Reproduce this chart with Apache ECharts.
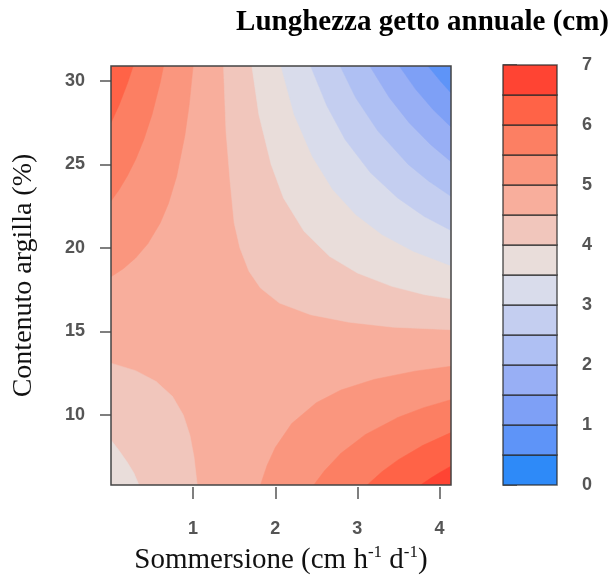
<!DOCTYPE html>
<html><head><meta charset="utf-8">
<script src="https://cdn.jsdelivr.net/npm/echarts@6/dist/echarts.min.js"></script>
<style>html,body{margin:0;padding:0;background:#fff}#c{width:616px;height:584px}</style>
</head><body><div id="c"></div>
<script>
// ---- axes / legend ticks ----
const xTicks = [1, 2, 3, 4];
const yTicks = [10, 15, 20, 25, 30];
const legendTicks = [0, 1, 2, 3, 4, 5, 6, 7];
const xRange = [0, 4.14];
const yRange = [5.8, 30.9];

// ---- contour levels (cm) and their fill colours ----
const levelBreaks = [0, 0.5, 1, 1.5, 2, 2.5, 3, 3.5, 4, 4.5, 5, 5.5, 6, 6.5, 7];
const bandColors = ['#2E8AF8', '#5E94F8', '#7EA0F6', '#98AFF5', '#AFC0F3', '#C4CEF0', '#D9DCEB',
                    '#E9DDDA', '#F1C6BC', '#F8AE9C', '#FA967E', '#FC7F63', '#FF6347', '#FF4433'];

// ---- contour lines: [Sommersione, Contenuto argilla] ----
// top-left corner (values rise towards the corner)
const tl_5_0 = [[1.0,30.9],[0.95,28.5],[0.9,26.75],[0.8,24.3],[0.7,22.67],[0.6,21.5],[0.45,20.26],[0.3,19.4],[0.15,18.76],[0,18.27]];
const tl_5_5 = [[0.64,30.9],[0.6,29.93],[0.5,28.0],[0.4,26.5],[0.3,25.3],[0.2,24.32],[0.1,23.5],[0,22.81]];
const tl_6_0 = [[0.27,30.9],[0.2,29.86],[0.1,28.58],[0,27.5]];
// bottom-right corner (values rise towards the corner)
const br_5_0 = [[1.82,5.8],[1.9,6.97],[2.0,8.04],[2.2,9.48],[2.5,10.73],[2.8,11.49],[3.2,12.12],[3.7,12.62],[4.14,12.91]];
const br_5_5 = [[2.47,5.8],[2.6,6.65],[2.8,7.7],[3.1,8.83],[3.5,9.86],[3.8,10.42],[4.14,10.91]];
const br_6_0 = [[3.12,5.8],[3.3,6.6],[3.5,7.32],[3.8,8.18],[4.14,8.94]];
const br_6_5 = [[3.77,5.8],[3.9,6.23],[4.0,6.54],[4.14,6.93]];
// top-right corner (values fall towards the corner)
const tr_4_5 = [[1.37,30.9],[1.40,27],[1.45,24],[1.5,21.5],[1.57,20],[1.68,18.6],[1.82,17.6],[2.05,16.7],[2.43,16],[2.9,15.55],[3.44,15.25],[4.14,15.1]];
const tr_4_0 = [[1.715,30.9],[1.80,28],[1.95,25],[2.1,23],[2.35,21],[2.66,19.5],[3.0,18.5],[3.42,17.7],[3.82,17.2],[4.14,16.95]];
const tr_3_5 = [[2.07,30.9],[2.23,28],[2.45,25.5],[2.7,23.5],[2.98,22],[3.3,20.8],[3.68,19.8],[4.14,18.94]];
const tr_3_0 = [[2.43,30.9],[2.63,28.5],[2.85,26.5],[3.16,24.5],[3.49,23],[3.81,21.9],[4.14,21.05]];
const tr_2_5 = [[2.79,30.9],[2.98,29],[3.25,27],[3.62,25],[3.87,24],[4.14,23.09]];
const tr_2_0 = [[3.15,30.9],[3.39,29],[3.63,27.5],[3.89,26.2],[4.14,25.17]];
const tr_1_5 = [[3.51,30.9],[3.71,29.5],[3.92,28.3],[4.14,27.25]];
const tr_1_0 = [[3.86,30.9],[4.01,30],[4.14,29.29]];
// bottom-left corner (values fall towards the corner)
const bl_4_5 = [[0,13.1],[0.3,12.65],[0.55,12.0],[0.75,11.1],[0.88,10.0],[0.96,8.8],[1.01,7.5],[1.05,5.8]];
const bl_4_0 = [[0,8.5],[0.1,7.85],[0.2,7.15],[0.28,6.5],[0.34,5.8]];

// region = area beyond a contour line, towards a plot corner
const centreLevel = 4.5; // band 4.5-5 fills the rest
const regions = [
  {line: tl_5_0, level: 5.0, corner: 'tl', side: 'high'},
  {line: tl_5_5, level: 5.5, corner: 'tl', side: 'high'},
  {line: tl_6_0, level: 6.0, corner: 'tl', side: 'high'},
  {line: br_5_0, level: 5.0, corner: 'br', side: 'high'},
  {line: br_5_5, level: 5.5, corner: 'br', side: 'high'},
  {line: br_6_0, level: 6.0, corner: 'br', side: 'high'},
  {line: br_6_5, level: 6.5, corner: 'br', side: 'high'},
  {line: tr_4_5, level: 4.5, corner: 'tr', side: 'low'},
  {line: tr_4_0, level: 4.0, corner: 'tr', side: 'low'},
  {line: tr_3_5, level: 3.5, corner: 'tr', side: 'low'},
  {line: tr_3_0, level: 3.0, corner: 'tr', side: 'low'},
  {line: tr_2_5, level: 2.5, corner: 'tr', side: 'low'},
  {line: tr_2_0, level: 2.0, corner: 'tr', side: 'low'},
  {line: tr_1_5, level: 1.5, corner: 'tr', side: 'low'},
  {line: tr_1_0, level: 1.0, corner: 'tr', side: 'low'},
  {line: bl_4_5, level: 4.5, corner: 'bl', side: 'low'},
  {line: bl_4_0, level: 4.0, corner: 'bl', side: 'low'}
];

const cornerPt = {
  tl: [xRange[0], yRange[1]], tr: [xRange[1], yRange[1]],
  bl: [xRange[0], yRange[0]], br: [xRange[1], yRange[0]]
};
function bandOf(level, side) {
  const i = levelBreaks.indexOf(level);
  return side === 'high' ? i : i - 1;
}
const polys = [{pts: [cornerPt.bl, cornerPt.br, cornerPt.tr, cornerPt.tl], band: bandOf(centreLevel, 'high')}]
  .concat(regions.map(r => ({pts: r.line.concat([cornerPt[r.corner]]), band: bandOf(r.level, r.side)})));

const legendBands = levelBreaks.slice(0, -1).map((lo, i) => [lo, levelBreaks[i + 1]]);

const sans = 'Liberation Sans, Arial, sans-serif';
const serif = 'Liberation Serif, Times New Roman, serif';
const tickLabel = {fontFamily: sans, fontSize: 18, color: '#555', fontWeight: 'bold'};
const tickLine = {color: '#555', width: 1.5};

const chart = echarts.init(document.getElementById('c'));
chart.setOption({
  animation: false,
  title: {
    text: 'Lunghezza getto annuale (cm)', right: 7, top: 8, padding: 0,
    textStyle: {fontFamily: serif, fontWeight: 'bold', fontSize: 29, color: '#000'}
  },
  grid: [
    {left: 111, top: 66, width: 340, height: 419, show: true, borderColor: '#444', borderWidth: 1.5, z: 10, backgroundColor: 'transparent'},
    {left: 503, top: 65, width: 54, height: 420}
  ],
  xAxis: [
    {
      gridIndex: 0, type: 'value', min: xRange[0], max: xRange[1], offset: 2,
      axisLine: {show: false}, splitLine: {show: false},
      axisTick: {length: 12, lineStyle: tickLine, customValues: xTicks},
      axisLabel: Object.assign({margin: 33, customValues: xTicks}, tickLabel),
      name: '{a|Sommersione (cm h}{s|-1}{a| d}{s|-1}{a|)}',
      nameLocation: 'middle', nameGap: 57,
      nameTextStyle: {
        rich: {
          a: {fontFamily: serif, fontSize: 29, color: '#111', lineHeight: 32},
          s: {fontFamily: serif, fontSize: 17, color: '#111', lineHeight: 17, verticalAlign: 'top'}
        }
      }
    },
    {gridIndex: 1, type: 'value', min: 0, max: 1, show: false}
  ],
  yAxis: [
    {
      gridIndex: 0, type: 'value', min: yRange[0], max: yRange[1], offset: 2,
      axisLine: {show: false}, splitLine: {show: false},
      axisTick: {length: 11, lineStyle: tickLine, customValues: yTicks},
      axisLabel: Object.assign({margin: 24, customValues: yTicks}, tickLabel),
      name: 'Contenuto argilla (%)', nameLocation: 'middle', nameRotate: 90, nameGap: 71,
      nameTextStyle: {fontFamily: serif, fontSize: 28, color: '#111'}
    },
    {
      gridIndex: 1, type: 'value', min: legendTicks[0], max: legendTicks[legendTicks.length - 1], interval: 1,
      position: 'right', axisLine: {show: false}, splitLine: {show: false},
      axisTick: {length: 14, lineStyle: tickLine},
      axisLabel: Object.assign({margin: 25}, tickLabel)
    }
  ],
  series: [
    {
      type: 'custom', xAxisIndex: 0, yAxisIndex: 0, silent: true, clip: true,
      data: polys.map(p => p.pts[0]),
      renderItem: function (params, api) {
        const p = polys[params.dataIndex];
        return {
          type: 'polygon',
          shape: {points: p.pts.map(pt => api.coord(pt))},
          style: {fill: bandColors[p.band], stroke: bandColors[p.band], lineWidth: 0.5}
        };
      }
    },
    {
      type: 'custom', xAxisIndex: 1, yAxisIndex: 1, silent: true,
      data: legendBands,
      renderItem: function (params, api) {
        const b = legendBands[params.dataIndex];
        const p0 = api.coord([0, b[0]]);
        const p1 = api.coord([1, b[1]]);
        return {
          type: 'rect',
          shape: {x: p0[0], y: p1[1], width: p1[0] - p0[0], height: p0[1] - p1[1]},
          style: {fill: bandColors[params.dataIndex], stroke: 'rgba(40,40,40,0.75)', lineWidth: 1.5}
        };
      }
    }
  ]
});
</script>
</body></html>
